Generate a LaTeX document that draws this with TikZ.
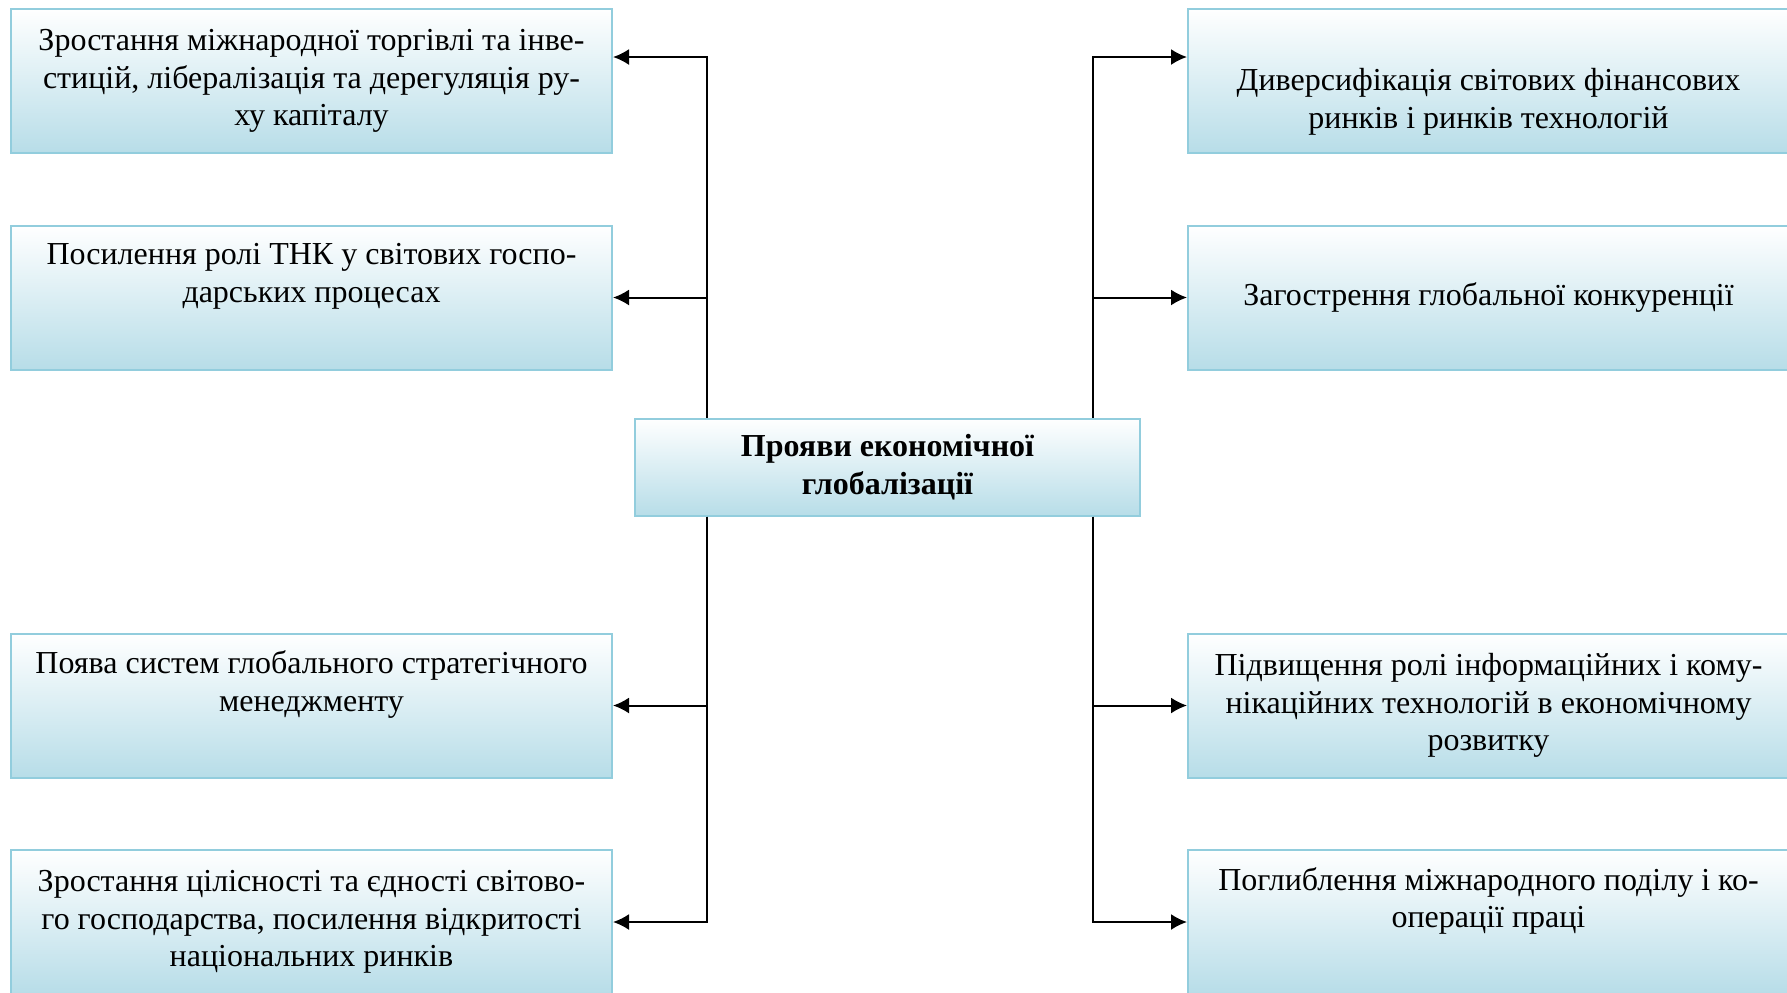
\documentclass[tikz,border=0pt]{standalone}
\usepackage{fontspec}
\setmainfont{Liberation Serif}
\usetikzlibrary{arrows.meta}
\definecolor{boxblue}{RGB}{183,221,232}
\definecolor{boxline}{RGB}{146,205,221}

\begin{document}
\begin{tikzpicture}[x=0.5pt, y=-0.5pt, node distance=108.25pt,
  box/.style={draw=boxline, line width=1pt, top color=white, bottom color=boxblue,
    minimum width=300.5pt, minimum height=72pt, align=center, inner sep=2pt,
    font=\fontsize{16}{18.75}\selectfont},
  arr/.style={-{Latex[length=8pt,width=8pt]}, line width=1pt}]
  \useasboundingbox (0,0) rectangle (1787,992);
  % центр
  \node[box, minimum width=252.5pt, minimum height=48.5pt,
        font=\fontsize{16}{18.75}\selectfont\bfseries] (c) at (887.5,467)
        {Прояви економічної\\глобалізації};
  % ліворуч
  \node[box] (l1) at (311.5,81)
        {Зростання міжнародної торгівлі та інве-\\стицій, лібералізація та дерегуляція ру-\\ху капіталу};
  \node[box] (l2) [below of=l1]
        {Посилення ролі ТНК у світових госпо-\\дарських процесах\\\strut};
  \node[box] (l3) at (311.5,705.5)
        {Поява систем глобального стратегічного\\менеджменту\\\strut};
  \node[box] (l4) [below of=l3]
        {Зростання цілісності та єдності світово-\\го господарства, посилення відкритості\\національних ринків};
  % праворуч
  \node[box] (r1) at (1488.5,81)
        {\strut\\Диверсифікація світових фінансових\\ринків і ринків технологій};
  \node[box] (r2) [below of=r1]
        {Загострення глобальної конкуренції};
  \node[box] (r3) at (1488.5,705.5)
        {Підвищення ролі інформаційних і кому-\\нікаційних технологій в економічному\\розвитку};
  \node[box] (r4) [below of=r3]
        {Поглиблення міжнародного поділу і ко-\\операції праці\\\strut};
  % стрілки
  \draw[arr] ([xshift=36.5pt]c.north west) |- ([yshift=12pt]l1.east);
  \draw[arr] ([xshift=36.5pt]c.north west) |- (l2.east);
  \draw[arr] ([xshift=36.5pt]c.south west) |- (l3.east);
  \draw[arr] ([xshift=36.5pt]c.south west) |- (l4.east);
  \draw[arr] ([xshift=-24pt]c.north east) |- ([yshift=12pt]r1.west);
  \draw[arr] ([xshift=-24pt]c.north east) |- (r2.west);
  \draw[arr] ([xshift=-24pt]c.south east) |- (r3.west);
  \draw[arr] ([xshift=-24pt]c.south east) |- (r4.west);
\end{tikzpicture}
\end{document}
